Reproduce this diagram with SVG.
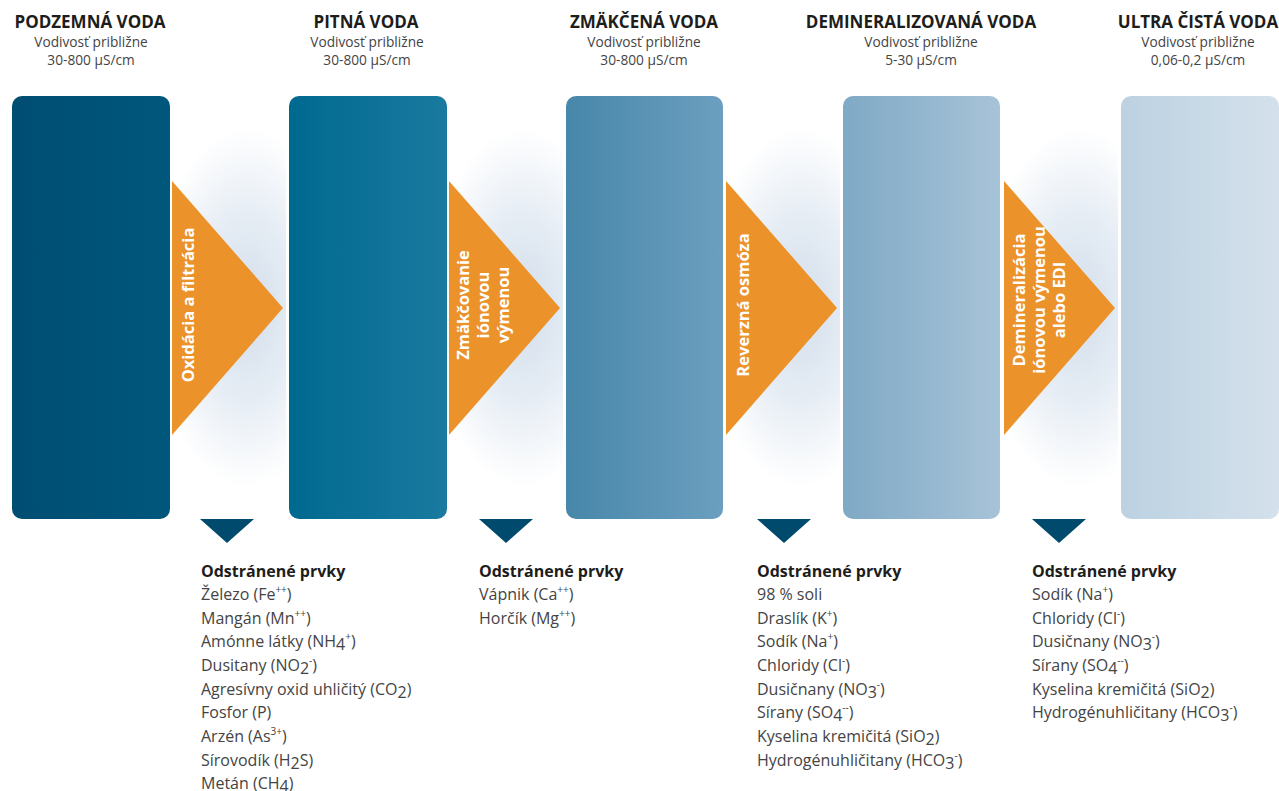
<svg xmlns="http://www.w3.org/2000/svg" width="1279" height="791" viewBox="0 0 1279 791">
<defs>
<linearGradient id="g1" x1="0" y1="0" x2="1" y2="0"><stop offset="0" stop-color="#004d72"/><stop offset="1" stop-color="#00577c"/></linearGradient>
<linearGradient id="g2" x1="0" y1="0" x2="1" y2="0"><stop offset="0" stop-color="#00698f"/><stop offset="1" stop-color="#1a7aa0"/></linearGradient>
<linearGradient id="g3" x1="0" y1="0" x2="1" y2="0"><stop offset="0" stop-color="#4787aa"/><stop offset="1" stop-color="#6c9fbf"/></linearGradient>
<linearGradient id="g4" x1="0" y1="0" x2="1" y2="0"><stop offset="0" stop-color="#7fa9c5"/><stop offset="1" stop-color="#a7c3d8"/></linearGradient>
<linearGradient id="g5" x1="0" y1="0" x2="1" y2="0"><stop offset="0" stop-color="#bcd1e1"/><stop offset="1" stop-color="#d4e1ec"/></linearGradient>
<radialGradient id="glow" cx="0.65" cy="0.5" r="0.85" gradientTransform="translate(0 0.25) scale(1 0.5)">
<stop offset="0" stop-color="#d3dfeb"/><stop offset="0.5" stop-color="#e5ecf4"/><stop offset="1" stop-color="#ffffff"/></radialGradient>
<style>
.h{font-family:"Open Sans","Liberation Sans",sans-serif;font-weight:700;font-size:17px;fill:#1d1d1b;text-anchor:middle}
.s{font-family:"Open Sans","Liberation Sans",sans-serif;font-size:13.7px;fill:#444;text-anchor:middle}
.t{font-family:"Open Sans","Liberation Sans",sans-serif;font-weight:700;font-size:16.5px;fill:#ffffff;text-anchor:middle}
.lb{font-family:"Open Sans","Liberation Sans",sans-serif;font-weight:700;font-size:16px;fill:#1d1d1b}
.li{font-family:"Open Sans","Liberation Sans",sans-serif;font-size:16px;fill:#444}
.sp{font-size:10px}
.tri{fill:#ec922b}
.dn{fill:#004a6e}
</style>
</defs>
<rect width="1279" height="791" fill="#ffffff"/>
<g id="glows">
<rect x="173" y="96" width="113" height="423" fill="url(#glow)"/>
<rect x="450" y="96" width="113" height="423" fill="url(#glow)"/>
<rect x="727" y="96" width="113" height="423" fill="url(#glow)"/>
<rect x="1004" y="96" width="114" height="423" fill="url(#glow)"/>
</g>
<g id="node-podzemna">
<rect x="12" y="96" width="158" height="423" rx="10" fill="url(#g1)"/>
<text class="h" x="90" y="28">PODZEMNÁ VODA</text>
<text class="s" x="91" y="47">Vodivosť približne</text>
<text class="s" x="91" y="65">30-800 µS/cm</text>
</g>
<g id="node-pitna">
<rect x="289" y="96" width="158" height="423" rx="10" fill="url(#g2)"/>
<text class="h" x="366" y="28">PITNÁ VODA</text>
<text class="s" x="367" y="47">Vodivosť približne</text>
<text class="s" x="367" y="65">30-800 µS/cm</text>
</g>
<g id="node-zmakcena">
<rect x="566" y="96" width="157" height="423" rx="10" fill="url(#g3)"/>
<text class="h" x="644" y="28">ZMÄKČENÁ VODA</text>
<text class="s" x="644" y="47">Vodivosť približne</text>
<text class="s" x="644" y="65">30-800 µS/cm</text>
</g>
<g id="node-demi">
<rect x="843" y="96" width="157" height="423" rx="10" fill="url(#g4)"/>
<text class="h" x="921" y="28">DEMINERALIZOVANÁ VODA</text>
<text class="s" x="921" y="47">Vodivosť približne</text>
<text class="s" x="921" y="65">5-30 µS/cm</text>
</g>
<g id="node-ultra">
<rect x="1121" y="96" width="158" height="423" rx="10" fill="url(#g5)"/>
<text class="h" x="1198" y="28">ULTRA ČISTÁ VODA</text>
<text class="s" x="1198" y="47">Vodivosť približne</text>
<text class="s" x="1198" y="65">0,06-0,2 µS/cm</text>
</g>
<g id="connectors">
<polygon class="tri" points="172,181 283,308 172,435"/>
<polygon class="tri" points="449,181 560,308 449,435"/>
<polygon class="tri" points="726,181 837,308 726,435"/>
<polygon class="tri" points="1004,181 1115,308 1004,435"/>
<polygon class="dn" points="200,519 254,519 227,543"/>
<polygon class="dn" points="479,519 533,519 506,543"/>
<polygon class="dn" points="757,519 811,519 784,543"/>
<polygon class="dn" points="1032,519 1086,519 1059,543"/>
<text class="t" transform="translate(194 305) rotate(-90)">Oxidácia a filtrácia</text>
<text class="t" transform="translate(469 305) rotate(-90)">Zmäkčovanie</text>
<text class="t" transform="translate(489 305) rotate(-90)">iónovou</text>
<text class="t" transform="translate(509 305) rotate(-90)">výmenou</text>
<text class="t" transform="translate(749 305) rotate(-90)">Reverzná osmóza</text>
<text class="t" transform="translate(1025 300) rotate(-90)">Demineralizácia</text>
<text class="t" transform="translate(1045 300) rotate(-90)">iónovou výmenou</text>
<text class="t" transform="translate(1065 300) rotate(-90)">alebo EDI</text>
</g>
<g id="list-1">
<text class="lb" x="201" y="577">Odstránené prvky</text>
<text class="li" x="201" y="600">Železo (Fe<tspan class="sp" baseline-shift="super">++</tspan>)</text>
<text class="li" x="201" y="624">Mangán (Mn<tspan class="sp" baseline-shift="super">++</tspan>)</text>
<text class="li" x="201" y="647">Amónne látky (NH<tspan baseline-shift="-3">4</tspan><tspan class="sp" baseline-shift="super">+</tspan>)</text>
<text class="li" x="201" y="671">Dusitany (NO<tspan baseline-shift="-3">2</tspan><tspan class="sp" baseline-shift="super">-</tspan>)</text>
<text class="li" x="201" y="695">Agresívny oxid uhličitý (CO<tspan baseline-shift="-3">2</tspan>)</text>
<text class="li" x="201" y="718">Fosfor (P)</text>
<text class="li" x="201" y="742">Arzén (As<tspan class="sp" baseline-shift="super">3+</tspan>)</text>
<text class="li" x="201" y="766">Sírovodík (H<tspan baseline-shift="-3">2</tspan>S)</text>
<text class="li" x="201" y="789">Metán (CH<tspan baseline-shift="-3">4</tspan>)</text>
</g>
<g id="list-2">
<text class="lb" x="479" y="577">Odstránené prvky</text>
<text class="li" x="479" y="600">Vápnik (Ca<tspan class="sp" baseline-shift="super">++</tspan>)</text>
<text class="li" x="479" y="624">Horčík (Mg<tspan class="sp" baseline-shift="super">++</tspan>)</text>
</g>
<g id="list-3">
<text class="lb" x="757" y="577">Odstránené prvky</text>
<text class="li" x="757" y="600">98 % soli</text>
<text class="li" x="757" y="624">Draslík (K<tspan class="sp" baseline-shift="super">+</tspan>)</text>
<text class="li" x="757" y="647">Sodík (Na<tspan class="sp" baseline-shift="super">+</tspan>)</text>
<text class="li" x="757" y="671">Chloridy (Cl<tspan class="sp" baseline-shift="super">-</tspan>)</text>
<text class="li" x="757" y="695">Dusičnany (NO<tspan baseline-shift="-3">3</tspan><tspan class="sp" baseline-shift="super">-</tspan>)</text>
<text class="li" x="757" y="718">Sírany (SO<tspan baseline-shift="-3">4</tspan><tspan class="sp" baseline-shift="super">--</tspan>)</text>
<text class="li" x="757" y="742">Kyselina kremičitá (SiO<tspan baseline-shift="-3">2</tspan>)</text>
<text class="li" x="757" y="766">Hydrogénuhličitany (HCO<tspan baseline-shift="-3">3</tspan><tspan class="sp" baseline-shift="super">-</tspan>)</text>
</g>
<g id="list-4">
<text class="lb" x="1032" y="577">Odstránené prvky</text>
<text class="li" x="1032" y="600">Sodík (Na<tspan class="sp" baseline-shift="super">+</tspan>)</text>
<text class="li" x="1032" y="624">Chloridy (Cl<tspan class="sp" baseline-shift="super">-</tspan>)</text>
<text class="li" x="1032" y="647">Dusičnany (NO<tspan baseline-shift="-3">3</tspan><tspan class="sp" baseline-shift="super">-</tspan>)</text>
<text class="li" x="1032" y="671">Sírany (SO<tspan baseline-shift="-3">4</tspan><tspan class="sp" baseline-shift="super">--</tspan>)</text>
<text class="li" x="1032" y="695">Kyselina kremičitá (SiO<tspan baseline-shift="-3">2</tspan>)</text>
<text class="li" x="1032" y="718">Hydrogénuhličitany (HCO<tspan baseline-shift="-3">3</tspan><tspan class="sp" baseline-shift="super">-</tspan>)</text>
</g>
</svg>
